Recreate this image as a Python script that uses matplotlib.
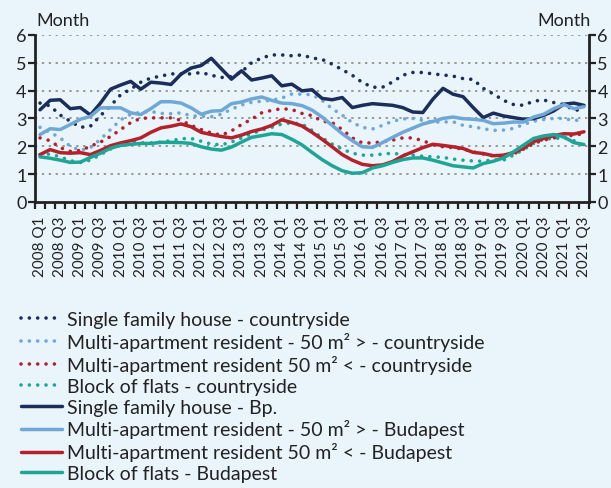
import matplotlib.pyplot as plt
import numpy as np

plt.rcParams['font.family'] = ['Lato', 'DejaVu Sans']

# quarters 2008 Q1 .. 2021 Q3
quarters = [f"{y} Q{q}" for y in range(2008, 2022) for q in (1, 2, 3, 4)][:55]

# countryside (dotted)
sfh_cs = [3.55, 3.45, 3.12, 2.9, 2.68, 2.72, 3.1, 3.45, 3.85, 4.05, 4.3, 4.45, 4.52, 4.6,
          4.6, 4.6, 4.65, 4.55, 4.47, 4.5, 4.67, 5.0, 5.17, 5.28, 5.28, 5.25, 5.28, 5.17,
          5.12, 4.95, 4.75, 4.55, 4.29, 4.12, 4.12, 4.31, 4.55, 4.65, 4.65, 4.6, 4.56,
          4.52, 4.43, 4.4, 4.08, 3.88, 3.65, 3.5, 3.47, 3.62, 3.66, 3.57, 3.5, 3.3, 3.3]
big_cs = [2.68, 2.5, 2.3, 2.0, 1.85, 1.95, 2.25, 2.6, 2.95, 3.15, 3.22, 3.25, 3.18, 3.17,
          3.2, 3.09, 3.08, 3.06, 3.15, 3.33, 3.48, 3.58, 3.62, 3.65, 3.73, 3.88, 3.87,
          3.85, 3.65, 3.35, 3.12, 2.85, 2.68, 2.62, 2.75, 2.9, 2.98, 3.0, 2.93, 2.87,
          2.87, 2.88, 2.75, 2.7, 2.63, 2.57, 2.58, 2.64, 2.78, 2.9, 2.96, 3.0, 3.0, 2.92, 2.97]
small_cs = [2.3, 2.2, 1.95, 1.82, 1.85, 2.0, 2.15, 2.35, 2.6, 2.85, 3.0, 3.02, 3.02, 3.02,
            2.93, 2.75, 2.6, 2.48, 2.4, 2.55, 2.78, 2.97, 3.2, 3.29, 3.35, 3.32, 3.18,
            3.1, 2.9, 2.85, 2.6, 2.3, 2.12, 2.12, 2.16, 2.22, 2.3, 2.3, 2.2, 2.06, 1.98,
            1.95, 1.9, 1.8, 1.72, 1.65, 1.65, 1.72, 1.9, 2.1, 2.22, 2.3, 2.35, 2.4, 2.45]
flats_cs = [1.7, 1.72, 1.62, 1.48, 1.42, 1.5, 1.7, 1.9, 2.05, 2.15, 2.13, 2.12, 2.15, 2.2,
            2.27, 2.28, 2.18, 2.08, 2.05, 2.15, 2.3, 2.45, 2.58, 2.68, 2.8, 2.84, 2.8,
            2.57, 2.3, 2.08, 1.9, 1.75, 1.68, 1.68, 1.72, 1.75, 1.7, 1.68, 1.64, 1.62,
            1.6, 1.54, 1.5, 1.47, 1.46, 1.52, 1.5, 1.68, 1.88, 2.1, 2.25, 2.28, 2.3, 2.2, 2.02]

# Budapest (solid)
sfh_bp = [3.31, 3.65, 3.67, 3.35, 3.39, 3.12, 3.55, 4.05, 4.2, 4.33, 4.05, 4.3, 4.27, 4.22,
          4.59, 4.81, 4.9, 5.16, 4.78, 4.41, 4.71, 4.38, 4.45, 4.53, 4.17, 4.23, 3.99,
          4.03, 3.72, 3.67, 3.75, 3.39, 3.47, 3.53, 3.5, 3.47, 3.39, 3.23, 3.21, 3.69,
          4.08, 3.87, 3.78, 3.39, 3.03, 3.19, 3.09, 3.03, 2.97, 2.99, 3.11, 3.27, 3.51, 3.55, 3.47]
big_bp = [2.42, 2.63, 2.6, 2.78, 2.97, 3.07, 3.38, 3.38, 3.38, 3.2, 3.14, 3.35, 3.6, 3.6,
          3.55, 3.38, 3.15, 3.26, 3.28, 3.53, 3.59, 3.7, 3.77, 3.65, 3.55, 3.53, 3.46,
          3.3, 3.05, 2.75, 2.45, 2.2, 1.98, 1.96, 2.13, 2.32, 2.5, 2.65, 2.8, 2.89, 3.0,
          3.05, 2.99, 2.97, 2.93, 2.81, 2.83, 2.87, 2.87, 3.05, 3.15, 3.35, 3.5, 3.35, 3.42]
small_bp = [1.7, 1.88, 1.77, 1.75, 1.77, 1.7, 1.85, 2.02, 2.12, 2.2, 2.3, 2.5, 2.66, 2.72,
            2.8, 2.7, 2.5, 2.42, 2.35, 2.3, 2.4, 2.53, 2.62, 2.75, 2.95, 2.85, 2.73,
            2.5, 2.25, 1.98, 1.7, 1.5, 1.35, 1.3, 1.33, 1.45, 1.65, 1.8, 1.95, 2.07, 2.03,
            1.98, 1.92, 1.78, 1.74, 1.66, 1.68, 1.77, 1.93, 2.17, 2.28, 2.38, 2.45, 2.44, 2.52]
flats_bp = [1.62, 1.57, 1.5, 1.42, 1.43, 1.6, 1.75, 1.93, 2.03, 2.07, 2.1, 2.1, 2.14, 2.14,
            2.13, 2.1, 1.98, 1.9, 1.86, 1.97, 2.15, 2.32, 2.38, 2.45, 2.42, 2.25, 2.05,
            1.78, 1.52, 1.3, 1.12, 1.03, 1.05, 1.22, 1.3, 1.42, 1.52, 1.58, 1.58, 1.5, 1.4,
            1.3, 1.26, 1.22, 1.38, 1.46, 1.58, 1.8, 2.04, 2.28, 2.37, 2.42, 2.34, 2.13, 2.06]

C_NAVY, C_LBLUE, C_RED, C_TEAL = "#1b2d5b", "#6fa8d6", "#b5212b", "#1fa595"
BG = "#e9f4fb"

fig = plt.figure(figsize=(6.11, 4.89), dpi=100, facecolor=BG)
ax = fig.add_axes([0.0573, 0.585, 0.9067, 0.3416], facecolor=BG)
x = np.arange(len(quarters))

dot = dict(lw=2.6, ls=(0, (0.01, 2.3)), dash_capstyle="round")
sol = dict(lw=2.5, solid_capstyle="round", solid_joinstyle="round")
ax.plot(x, sfh_cs, color=C_NAVY, label="Single family house - countryside", **dot)
ax.plot(x, big_cs, color=C_LBLUE, label="Multi-apartment resident - 50 m² > - countryside", **dot)
ax.plot(x, small_cs, color=C_RED, label="Multi-apartment resident 50 m² < - countryside", **dot)
ax.plot(x, flats_cs, color=C_TEAL, label="Block of flats - countryside", **dot)
ax.plot(x, sfh_bp, color=C_NAVY, label="Single family house - Bp.", **sol)
ax.plot(x, big_bp, color=C_LBLUE, label="Multi-apartment resident - 50 m² > - Budapest", **sol)
ax.plot(x, small_bp, color=C_RED, label="Multi-apartment resident 50 m² < - Budapest", **sol)
ax.plot(x, flats_bp, color=C_TEAL, label="Block of flats - Budapest", **sol)

ax.set_xlim(-0.5, len(quarters) - 0.5)
ax.set_ylim(0, 6)
for v in range(1, 7):
    ax.axhline(v, color="#808080", lw=1.1, ls=(0, (1.5, 3)), zorder=0)

ax.set_xticks(x[::2])
ax.set_xticklabels(quarters[::2], rotation=90, fontsize=11, color="#222222")
ax.set_xticks(np.arange(-0.5, len(quarters)), minor=True)
ax.tick_params(axis="x", which="major", length=0, pad=10)
ax.tick_params(axis="x", which="minor", length=5, width=1.6, direction="out", color="#222222")

ax.set_yticks(range(7))
ax.tick_params(axis="y", which="both", left=True, right=True, labelleft=True,
               labelright=True, length=5, width=1.6, labelsize=13, pad=1,
               labelcolor="#222222", color="#222222")

for s in ("left", "right", "bottom"):
    ax.spines[s].set_linewidth(2.0)
    ax.spines[s].set_color("#222222")
ax.spines["top"].set_visible(False)

fig.text(0.059, 0.947, "Month", fontsize=13, color="#222222", ha="left", va="baseline")
fig.text(0.966, 0.947, "Month", fontsize=13, color="#222222", ha="right", va="baseline")

fig.legend(loc="upper left", bbox_to_anchor=(0.034, 0.362), frameon=False,
           fontsize=14, handlelength=2.1, handletextpad=0.3, labelspacing=0.2,
           borderaxespad=0, borderpad=0, labelcolor="#222222")

fig.savefig("out.png", dpi=100, facecolor=BG)
